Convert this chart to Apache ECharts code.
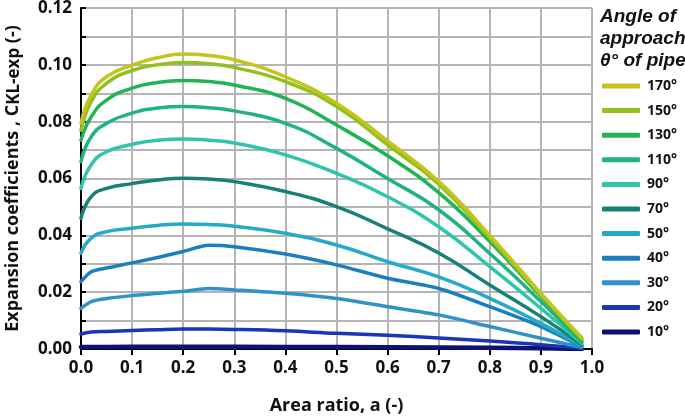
<!DOCTYPE html>
<html><head><meta charset="utf-8">
<script src="https://cdn.jsdelivr.net/npm/echarts@6/dist/echarts.min.js"></script>
<style>html,body{margin:0;padding:0;background:#fff}#c{width:685px;height:416px}</style>
</head><body><div id="c"></div>
<script>
const areaRatio = [0, 0.02, 0.05, 0.1, 0.15, 0.2, 0.25, 0.3, 0.4, 0.5, 0.6, 0.7, 0.8, 0.9, 0.98];
const angleLabels = ['170°','150°','130°','110°','90°','70°','50°','40°','30°','20°','10°'];
const theta170 = [0.0794,0.0894,0.0958,0.0999,0.1025,0.1038,0.1033,0.1018,0.0958,0.0865,0.0732,0.0590,0.0400,0.0196,0.0040];
const theta150 = [0.0770,0.0870,0.0935,0.0980,0.1000,0.1008,0.1004,0.0991,0.0941,0.0853,0.0718,0.0580,0.0390,0.0190,0.0035];
const theta130 = [0.0735,0.0817,0.0876,0.0918,0.0938,0.0945,0.0941,0.0929,0.0882,0.0788,0.0680,0.0550,0.0378,0.0185,0.0030];
const theta110 = [0.0659,0.0747,0.0794,0.0830,0.0848,0.0853,0.0849,0.0838,0.0794,0.0706,0.0600,0.0490,0.0336,0.0167,0.0025];
const theta90  = [0.0565,0.0648,0.0694,0.0720,0.0735,0.0739,0.0735,0.0725,0.0683,0.0618,0.0536,0.0430,0.0290,0.0143,0.0020];
const theta70  = [0.0460,0.0536,0.0565,0.0582,0.0595,0.0601,0.0598,0.0589,0.0554,0.0501,0.0423,0.0338,0.0225,0.0114,0.0015];
const theta50  = [0.0337,0.0390,0.0413,0.0425,0.0435,0.0440,0.0438,0.0432,0.0407,0.0366,0.0307,0.0254,0.0178,0.0090,0.0010];
const theta40  = [0.0237,0.0272,0.0285,0.0303,0.0322,0.0343,0.0365,0.0360,0.0334,0.0296,0.0249,0.0213,0.0149,0.0079,0.0008];
const theta30  = [0.0143,0.0167,0.0178,0.0188,0.0196,0.0203,0.0213,0.0208,0.0196,0.0178,0.0149,0.0120,0.0079,0.0038,0.0005];
const theta20  = [0.0053,0.0060,0.0062,0.0065,0.0068,0.0070,0.0070,0.0069,0.0064,0.0055,0.0048,0.0039,0.0028,0.0015,0.0002];
const theta10  = [0.0007,0.0007,0.0007,0.0008,0.0008,0.0008,0.0008,0.0008,0.0007,0.0007,0.0006,0.0005,0.0004,0.0003,0.0000];

const seriesDefs = [
  ['10°', theta10, '#0c1274', 4.5, 0],
  ['20°', theta20, '#1836b5', 3.5, 0.4],
  ['30°', theta30, '#3191c9', 3.5, 0.25],
  ['40°', theta40, '#1b7fbf', 3.5, 0.25],
  ['50°', theta50, '#22aac8', 3.5, 0.5],
  ['70°', theta70, '#198077', 3.5, 0.5],
  ['90°', theta90, '#2ec5aa', 3.5, 0.5],
  ['110°', theta110, '#1fb380', 3.5, 0.5],
  ['130°', theta130, '#1fb553', 3.5, 0.5],
  ['150°', theta150, '#92c11e', 3.5, 0.5],
  ['170°', theta170, '#c4c41c', 3.5, 0.5]
];
const FONT = '"Open Sans", "DejaVu Sans", sans-serif';
const chart = echarts.init(document.getElementById('c'), null, {renderer:'canvas'});
chart.setOption({
  animation:false,
  backgroundColor:'#fff',
  title:{
    text:'Angle of\napproach\nθ° of pipe',
    left:595, top:1,
    textStyle:{fontFamily:'"Liberation Sans", Arial, sans-serif', fontStyle:'italic', fontWeight:'bold', fontSize:19, lineHeight:22, color:'#111'}
  },
  legend:{
    orient:'vertical', left:597, top:73,
    data:angleLabels,
    icon:'roundRect', itemWidth:38, itemHeight:5, itemGap:8.6,
    textStyle:{fontFamily:FONT, fontWeight:'bold', fontSize:14, color:'#111', lineHeight:16, padding:[0,0,0,2]}
  },
  grid:{left:81, right:93, top:8, bottom:67, containLabel:false, outerBoundsMode:'none'},
  xAxis:{
    type:'value', min:0, max:1, interval:0.1,
    name:'Area ratio, a (-)', nameLocation:'middle', nameGap:48,
    nameTextStyle:{fontFamily:FONT, fontWeight:'bold', fontSize:18, color:'#111'},
    axisLine:{show:true, lineStyle:{color:'#000', width:2}},
    axisTick:{show:true, inside:false, length:6, lineStyle:{color:'#000', width:2}},
    axisLabel:{fontFamily:FONT, fontWeight:'bold', fontSize:17, color:'#111', margin:11, formatter:v=>v.toFixed(1)},
    splitLine:{show:true, lineStyle:{color:'#b4b4b4', width:2}}
  },
  yAxis:{
    type:'value', min:0, max:0.12, interval:0.01,
    name:'Expansion coefficients , C{s|KL-exp} (-)', nameLocation:'middle', nameGap:58, nameRotate:90,
    nameTextStyle:{fontFamily:FONT, fontWeight:'bold', fontSize:18, color:'#111', rich:{s:{fontFamily:FONT, fontWeight:'bold', fontSize:17, color:'#111', padding:[4,0,0,0]}}},
    axisLine:{show:true, onZero:false, lineStyle:{color:'#000', width:2}},
    axisTick:{show:true, inside:true, length:5, lineStyle:{color:'#000', width:2}},
    axisLabel:{fontFamily:FONT, fontWeight:'bold', fontSize:17, color:'#111', margin:9,
      formatter:v=>{const k=Math.round(v*100); return k%2===0 ? v.toFixed(2) : '';}},
    splitLine:{show:true, lineStyle:{color:'#b4b4b4', width:2}}
  },
  series: seriesDefs.map(([name, vals, color, w, sm]) => ({
    name, type:'line', showSymbol:false, symbol:'none', smooth: sm,
    data: areaRatio.map((a,i)=>[a, vals[i]]),
    lineStyle:{color, width:w, cap:'round', join:'round'},
    itemStyle:{color},
    z:2
  }))
});
</script></body></html>
